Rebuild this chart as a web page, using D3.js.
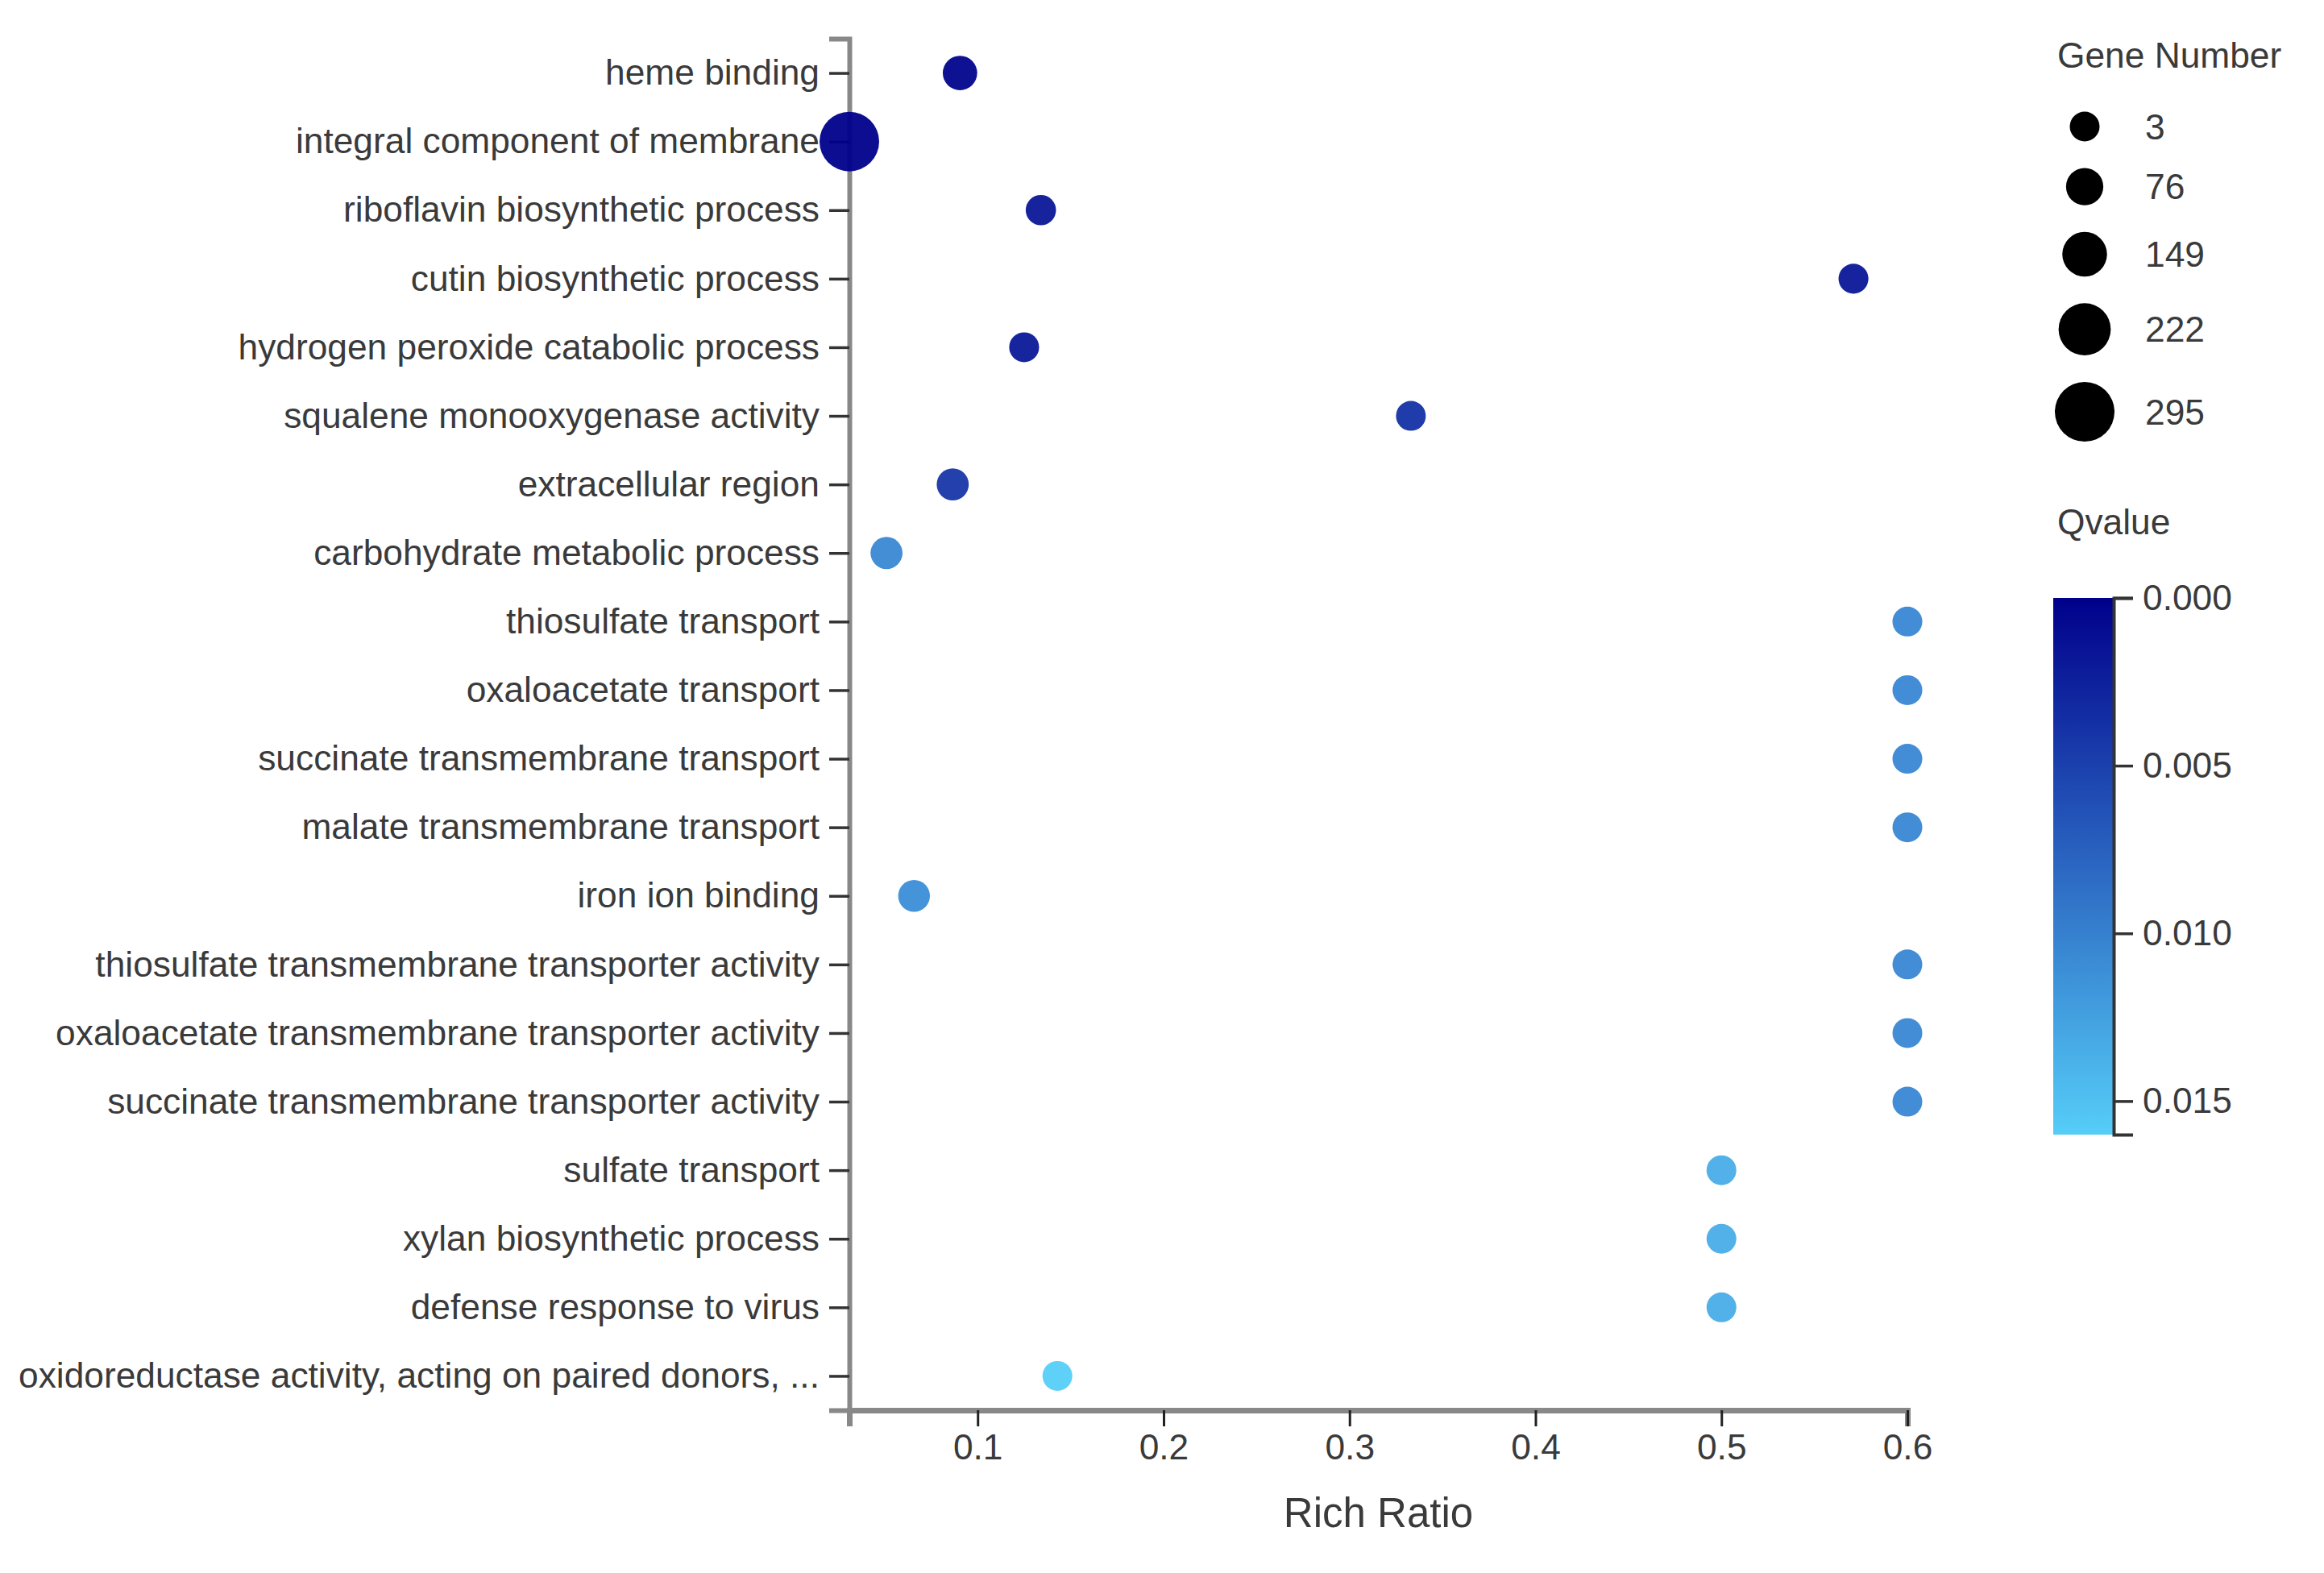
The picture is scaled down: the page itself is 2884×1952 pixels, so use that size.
<!DOCTYPE html>
<html>
<head>
<meta charset="utf-8">
<script src="https://cdn.jsdelivr.net/npm/d3@7"></script>
<style>
  body { margin: 0; background: #fff; }
  svg { display: block; }
  text { font-family: "Liberation Sans", Arial, sans-serif; }
</style>
</head>
<body>
<div id="chart"></div>
<script>
// --- data ---
const terms = [
  "heme binding",
  "integral component of membrane",
  "riboflavin biosynthetic process",
  "cutin biosynthetic process",
  "hydrogen peroxide catabolic process",
  "squalene monooxygenase activity",
  "extracellular region",
  "carbohydrate metabolic process",
  "thiosulfate transport",
  "oxaloacetate transport",
  "succinate transmembrane transport",
  "malate transmembrane transport",
  "iron ion binding",
  "thiosulfate transmembrane transporter activity",
  "oxaloacetate transmembrane transporter activity",
  "succinate transmembrane transporter activity",
  "sulfate transport",
  "xylan biosynthetic process",
  "defense response to virus",
  "oxidoreductase activity, acting on paired donors, ..."
];
const richRatio = [0.0905, 0.031, 0.134, 0.571, 0.125, 0.333, 0.0866, 0.051,
  0.6, 0.6, 0.6, 0.6, 0.0658, 0.6, 0.6, 0.6, 0.5, 0.5, 0.5, 0.1429];
const geneNumber = [48, 295, 8, 4, 4, 3, 25, 25,
  3, 3, 3, 3, 22, 3, 3, 3, 3, 3, 3, 3];
const qvalue = [0.0003, 0.0, 0.0018, 0.0018, 0.0019, 0.0038, 0.0042, 0.0106,
  0.0105, 0.0105, 0.0105, 0.0105, 0.0110, 0.0105, 0.0105, 0.0105,
  0.0135, 0.0135, 0.0135, 0.016];
const sizeLegendValues = [3, 76, 149, 222, 295];
const qColors = ["#00008B", "#56CDF8"];

const width = 2884, height = 1952;
const margin = { top: 48, right: 517, bottom: 202, left: 1054 };
const fontSize = 44.3;

const data = terms.map((t, i) => ({
  term: t, ratio: richRatio[i], genes: geneNumber[i], q: qvalue[i]
}));

const svg = d3.select("#chart").append("svg")
  .attr("width", width)
  .attr("height", height)
  .attr("viewBox", [0, 0, width, height]);

// --- scales ---
const x = d3.scaleLinear()
  .domain(d3.extent(richRatio))
  .range([margin.left, width - margin.right]);

const y = d3.scalePoint()
  .domain(terms)
  .range([margin.top, height - margin.bottom])
  .padding(0.5);

const r = d3.scaleLinear()
  .domain(d3.extent(geneNumber))
  .range([18.5, 37]);

const qDomain = d3.extent(qvalue);
const color = d3.scaleLinear().domain(qDomain).range(qColors);

// --- axes ---
const yAxis = svg.append("g")
  .attr("transform", `translate(${margin.left},0)`)
  .call(d3.axisLeft(y).tickSize(25).tickPadding(12));
yAxis.select(".domain").attr("stroke", "#888").attr("stroke-width", 6);
yAxis.selectAll(".tick line").attr("stroke", "#333").attr("stroke-width", 3.5);
yAxis.selectAll(".tick text")
  .attr("font-size", fontSize).attr("fill", "#3a3a3a")
  .style("font-family", '"Liberation Sans", Arial, sans-serif');

const xAxis = svg.append("g")
  .attr("transform", `translate(0,${height - margin.bottom})`)
  .call(d3.axisBottom(x).ticks(6).tickSize(20).tickPadding(10));
xAxis.select(".domain").attr("stroke", "#888").attr("stroke-width", 7);
xAxis.selectAll(".tick line").attr("stroke", "#222").attr("stroke-width", 3);
xAxis.selectAll(".tick text")
  .attr("font-size", fontSize).attr("fill", "#3a3a3a")
  .style("font-family", '"Liberation Sans", Arial, sans-serif');

svg.append("text")
  .attr("x", (margin.left + width - margin.right) / 2)
  .attr("y", 1895)
  .attr("text-anchor", "middle")
  .attr("font-size", 51)
  .attr("fill", "#3a3a3a")
  .text("Rich Ratio");

// --- bubbles ---
svg.append("g")
  .selectAll("circle")
  .data(data)
  .join("circle")
  .attr("cx", d => x(d.ratio))
  .attr("cy", d => y(d.term))
  .attr("r", d => r(d.genes))
  .attr("fill", d => color(d.q))
  .attr("fill-opacity", 0.95);

// --- size legend ---
const legendX = 2553;
svg.append("text")
  .attr("x", legendX).attr("y", 84)
  .attr("font-size", fontSize).attr("fill", "#3a3a3a")
  .text("Gene Number");

let cy = 157;
const sizeItems = sizeLegendValues.map((v, i) => {
  if (i > 0) cy += r(sizeLegendValues[i - 1]) + r(v) + 33;
  return { v, cy };
});
const sizeLeg = svg.append("g");
sizeLeg.selectAll("circle")
  .data(sizeItems)
  .join("circle")
  .attr("cx", 2587)
  .attr("cy", d => d.cy)
  .attr("r", d => r(d.v))
  .attr("fill", "#000");
sizeLeg.selectAll("text")
  .data(sizeItems)
  .join("text")
  .attr("x", 2662)
  .attr("y", d => d.cy)
  .attr("dy", "0.35em")
  .attr("font-size", fontSize)
  .attr("fill", "#3a3a3a")
  .text(d => d.v);

// --- colour legend ---
svg.append("text")
  .attr("x", legendX).attr("y", 663)
  .attr("font-size", fontSize).attr("fill", "#3a3a3a")
  .text("Qvalue");

const barX = 2548, barW = 75, barTop = 742, barBottom = 1408;
const grad = svg.append("defs").append("linearGradient")
  .attr("id", "qgrad")
  .attr("x1", 0).attr("x2", 0).attr("y1", 0).attr("y2", 1);
grad.selectAll("stop")
  .data(d3.range(0, 1.0001, 0.1))
  .join("stop")
  .attr("offset", d => d)
  .attr("stop-color", d => color(qDomain[0] + d * (qDomain[1] - qDomain[0])));

svg.append("rect")
  .attr("x", barX).attr("y", barTop)
  .attr("width", barW).attr("height", barBottom - barTop)
  .attr("fill", "url(#qgrad)");

const qY = d3.scaleLinear().domain(qDomain).range([barTop, barBottom]);
const qAxis = svg.append("g")
  .attr("transform", `translate(${barX + barW},0)`)
  .call(d3.axisRight(qY).ticks(4).tickFormat(d3.format(".3f")).tickSize(24).tickPadding(12));
qAxis.select(".domain").attr("stroke", "#333").attr("stroke-width", 4);
qAxis.selectAll(".tick line").attr("stroke", "#333").attr("stroke-width", 3.5);
qAxis.selectAll(".tick text")
  .attr("font-size", fontSize).attr("fill", "#3a3a3a")
  .style("font-family", '"Liberation Sans", Arial, sans-serif');
</script>
</body>
</html>
